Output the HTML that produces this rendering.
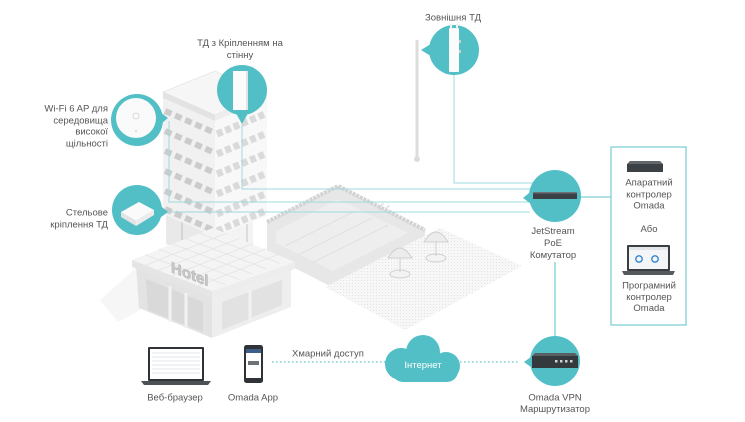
<!DOCTYPE html>
<html><head><meta charset="utf-8"><style>
html,body{margin:0;padding:0;background:#fff;}
svg{display:block;}
text{font-family:"Liberation Sans","DejaVu Sans",sans-serif;font-size:9.5px;fill:#555;}
</style></head><body>
<svg width="745" height="422" viewBox="0 0 745 422" xmlns="http://www.w3.org/2000/svg">
<defs>
<pattern id="dots" width="3" height="3" patternUnits="userSpaceOnUse">
<rect width="3" height="3" fill="#f7f7f7"/><rect x="1" y="1" width="1" height="1" fill="#e2e2e2"/>
</pattern>
</defs>
<rect width="745" height="422" fill="#fff"/>

<!-- faint ground shadow -->
<polygon points="100,300 136,268 140,310 118,322" fill="#f6f6f6"/>

<!-- pool -->
<polygon points="267,222 338,186 425,230 425,236 330,286 267,254" fill="#e7e7e7"/>
<polygon points="276,231 338,199 408,233 333,271 276,243" fill="#eeeeee"/>
<line x1="285" y1="246" x2="355" y2="211" stroke="#e0e0e0" stroke-width="1"/>
<line x1="298" y1="255" x2="372" y2="218" stroke="#e0e0e0" stroke-width="1"/>
<line x1="312" y1="263" x2="388" y2="225" stroke="#e0e0e0" stroke-width="1"/>
<polyline points="267,222 338,186 425,230" fill="none" stroke="#d3d3d3" stroke-width="4" stroke-dasharray="3 1"/>
<path d="M380,210 q0,-6 4,-6 M386,212 q0,-6 4,-6" stroke="#d6d6d6" stroke-width="1" fill="none"/>

<!-- patio -->
<polygon points="325,287 440,228 522,266 405,330" fill="url(#dots)"/>

<!-- umbrellas -->
<g fill="#ececec" stroke="#cfcfcf" stroke-width="1">
<ellipse cx="400" cy="274" rx="10" ry="4" fill="#f3f3f3"/>
<line x1="400" y1="258" x2="400" y2="272"/>
<path d="M388,258 Q400,238 412,258 Z"/>
<ellipse cx="436" cy="258" rx="10" ry="4" fill="#f3f3f3"/>
<line x1="436" y1="242" x2="436" y2="256"/>
<path d="M424,242 Q436,222 448,242 Z"/>
</g>

<!-- tower ground block -->
<polygon points="166,214 215,236 215,262 166,244" fill="#e9e9e9"/>
<polygon points="215,236 253,221 253,245 215,262" fill="#f3f3f3"/>
<line x1="182" y1="222" x2="182" y2="250" stroke="#d4d4d4" stroke-width="2"/>
<line x1="247" y1="224" x2="247" y2="250" stroke="#dcdcdc" stroke-width="2"/>

<!-- tower -->
<polygon points="163,98 215,121 215,237 163,214" fill="#f1f1f1"/>
<polygon points="215,121 267,99 267,216 215,237" fill="#f8f8f8"/>
<polygon points="163,92 215,71 267,93 215,115" fill="#f6f6f6" stroke="#e4e4e4" stroke-width="0.8"/>
<polygon points="163,92 215,115 215,121 163,98" fill="#e3e3e3"/>
<polygon points="215,115 267,93 267,99 215,121" fill="#ededed"/>
<g stroke="#cbcbcb" stroke-width="6" stroke-dasharray="7 4">
<line x1="165" y1="111" x2="213" y2="132"/>
<line x1="165" y1="131" x2="213" y2="152"/>
<line x1="165" y1="151" x2="213" y2="172"/>
<line x1="165" y1="171" x2="213" y2="192"/>
<line x1="165" y1="191" x2="213" y2="212"/>
<line x1="165" y1="209" x2="213" y2="230"/>
</g>
<g stroke="#dadada" stroke-width="7" stroke-dasharray="6 3">
<line x1="217" y1="134" x2="265" y2="114"/>
<line x1="217" y1="154" x2="265" y2="134"/>
<line x1="217" y1="174" x2="265" y2="154"/>
<line x1="217" y1="194" x2="265" y2="174"/>
<line x1="217" y1="214" x2="265" y2="194"/>
<line x1="217" y1="231" x2="265" y2="211"/>
</g>

<!-- lobby -->
<polygon points="136,266 212,297 212,338 139,308" fill="#e3e3e3"/>
<polygon points="212,297 291,268 291,307 212,338" fill="#eeeeee"/>
<polygon points="146,279 203,302 203,332 148,310" fill="#d9d9d9"/>
<polygon points="222,302 282,280 282,305 222,330" fill="#e2e2e2"/>
<g stroke="#f2f2f2" stroke-width="3">
<line x1="170" y1="286" x2="170" y2="322"/>
<line x1="186" y1="293" x2="186" y2="328"/>
<line x1="250" y1="290" x2="250" y2="320"/>
</g>
<polygon points="132,260 213,228 295,262 212,291" fill="#f4f4f4"/>
<g stroke="#e3e3e3" stroke-width="0.8">
<line x1="145.5" y1="254.7" x2="225.5" y2="284.7"/>
<line x1="159" y1="249.3" x2="239" y2="279.3"/>
<line x1="172.5" y1="244" x2="252.5" y2="274"/>
<line x1="186" y1="238.7" x2="266" y2="268.7"/>
<line x1="199.5" y1="233.3" x2="279.5" y2="263.3"/>
<line x1="145.3" y1="265.2" x2="226.3" y2="233.2"/>
<line x1="158.7" y1="270.3" x2="239.7" y2="238.3"/>
<line x1="172" y1="275.5" x2="253" y2="243.5"/>
<line x1="185.3" y1="280.7" x2="266.3" y2="248.7"/>
<line x1="198.7" y1="285.8" x2="279.7" y2="253.8"/>
</g>
<polygon points="132,260 212,291 212,298 132,267" fill="#e5e5e5"/>
<polygon points="212,291 295,262 295,269 212,298" fill="#ededed"/>
<text x="0" y="0" transform="matrix(1,0.38,0,1,171,272)" style="font-size:15px;font-weight:bold;fill:#c9c9c9;stroke:#b5b5b5;stroke-width:0.6">Hotel</text>

<!-- pole -->
<line x1="417" y1="40" x2="417" y2="158" stroke="#dcdcdc" stroke-width="3"/>
<circle cx="417" cy="159" r="3" fill="#dcdcdc"/>

<!-- connection lines -->
<g stroke="#9fd8dc" stroke-width="1" fill="none">
<polyline points="169,121 169,202 529,202"/>
<polyline points="168,212 530,212"/>
<polyline points="242,124 242,189 532,189"/>
<polyline points="454,75 454,183 537,183"/>
</g>
<g stroke="#7fcfd3" stroke-width="1.3" fill="none">
<line x1="580" y1="197" x2="611" y2="197"/>
<line x1="555" y1="262" x2="555" y2="336"/>
<rect x="611" y="147" width="75" height="178"/>
</g>
<g stroke="#7fcfd3" stroke-width="1.5" stroke-dasharray="1.5 2.5">
<line x1="272" y1="362" x2="388" y2="362"/>
<line x1="460" y1="362" x2="520" y2="362"/>
</g>

<!-- teal callouts -->
<g fill="#52bfc6">
<circle cx="137" cy="120" r="26"/><polygon points="168,118 156,109 156,128"/>
<circle cx="137" cy="210" r="25"/><polygon points="168,212 157,203 157,220"/>
<circle cx="242" cy="90" r="25"/><polygon points="242,124 233,108 251,108"/>
<circle cx="454" cy="50" r="25"/><polygon points="421,50 434,42 434,58"/>
<circle cx="555" cy="196" r="26"/><polygon points="523,198 534,189 534,206"/>
<circle cx="555" cy="361" r="25"/><polygon points="524,362 535,354 535,370"/>
<circle cx="401" cy="364" r="16"/><circle cx="423" cy="352" r="17"/><circle cx="446" cy="366" r="14"/>
<rect x="392" y="360" width="66" height="22" rx="11"/>
</g>
<text x="423" y="368" text-anchor="middle" style="fill:#fff;font-size:9.5px">Інтернет</text>

<!-- device icons in callouts -->
<circle cx="136" cy="118" r="20" fill="#fafafa"/>
<circle cx="136" cy="116" r="3" fill="none" stroke="#d0d0d0" stroke-width="0.8"/>
<circle cx="136" cy="131" r="0.8" fill="#bbb"/>
<polygon points="121,212 136,221 136,226 121,217" fill="#e3e3e3"/>
<polygon points="136,221 154,210 154,215 136,226" fill="#ececec"/>
<polygon points="121,212 139,202 154,210 136,221" fill="#fafafa"/>
<rect x="233" y="71" width="15" height="39" fill="#fbfbfb"/>
<rect x="246" y="71" width="2" height="39" fill="#e3e3e3"/>
<rect x="449" y="28" width="10" height="44" rx="1" fill="#fbfbfb"/>
<rect x="450" y="24" width="2" height="5" fill="#f0f0f0"/><rect x="456" y="24" width="2" height="5" fill="#f0f0f0"/>
<rect x="459" y="40" width="2" height="3" fill="#ccc"/><rect x="459" y="50" width="2" height="3" fill="#ccc"/>
<rect x="533" y="192" width="44" height="7" fill="#3b4045"/>
<rect x="533" y="192" width="44" height="1.5" fill="#6a7076"/>
<polygon points="535,353 575,353 578,356 532,356" fill="#5a5f64"/>
<rect x="532" y="356" width="46" height="12" fill="#34393e"/>
<g fill="#cfd3d6"><rect x="555" y="360" width="2.5" height="2.5"/><rect x="560" y="360" width="2.5" height="2.5"/><rect x="565" y="360" width="2.5" height="2.5"/><rect x="570" y="360" width="2.5" height="2.5"/></g>

<!-- panel devices -->
<polygon points="630,161 660,161 663,164 627,164" fill="#62676c"/>
<rect x="627" y="164" width="36" height="8" fill="#3c4146"/>
<rect x="627" y="245" width="43" height="26" rx="1" fill="#3a3e42"/>
<rect x="629" y="247" width="39" height="22" fill="#f3f5f7"/>
<rect x="629" y="247" width="39" height="3" fill="#e2e6ea"/>
<circle cx="639" cy="259" r="3.2" fill="none" stroke="#2f86d6" stroke-width="1.4"/>
<circle cx="655" cy="259" r="3.2" fill="none" stroke="#2f86d6" stroke-width="1.4"/>
<polygon points="622,271 675,271 673,275 624,275" fill="#555a5f"/>

<!-- bottom devices -->
<rect x="148" y="347" width="56" height="34" rx="1" fill="#2f3337"/>
<rect x="150" y="349" width="52" height="30" fill="#fff"/>
<g stroke="#d8dde2" stroke-width="0.8">
<line x1="152" y1="353" x2="200" y2="353"/><line x1="152" y1="357" x2="200" y2="357"/>
<line x1="152" y1="361" x2="200" y2="361"/><line x1="152" y1="365" x2="200" y2="365"/>
<line x1="152" y1="369" x2="200" y2="369"/><line x1="152" y1="373" x2="200" y2="373"/>
</g>
<polygon points="141,381 211,381 208,385 144,385" fill="#4c5156"/>
<rect x="244" y="345" width="19" height="38" rx="2.5" fill="#2f3337"/>
<rect x="246" y="349" width="15" height="29" fill="#fff"/>
<rect x="246" y="349" width="15" height="4" fill="#3d5f8a"/>
<rect x="248" y="361" width="11" height="4" fill="#6b7278"/>

<!-- labels -->
<text x="240" y="46" text-anchor="middle">ТД з Кріпленням на</text>
<text x="240" y="58" text-anchor="middle">стінну</text>
<g text-anchor="end">
<text x="108" y="111.5">Wi-Fi 6 AP для</text>
<text x="108" y="123.5">середовища</text>
<text x="108" y="134.5">високої</text>
<text x="108" y="146.5">щільності</text>
<text x="108" y="215.5">Стельове</text>
<text x="108" y="227.5">кріплення ТД</text>
</g>
<g text-anchor="middle">
<text x="453" y="20.5">Зовнішня ТД</text>
<text x="553" y="234">JetStream</text>
<text x="553" y="246">PoE</text>
<text x="553" y="258">Комутатор</text>
<text x="649" y="185.5">Апаратний</text>
<text x="649" y="197.5">контролер</text>
<text x="649" y="208.5">Omada</text>
<text x="649" y="232">Або</text>
<text x="649" y="288.5">Програмний</text>
<text x="649" y="300">контролер</text>
<text x="649" y="311">Omada</text>
<text x="175" y="400.5">Веб-браузер</text>
<text x="253" y="400.5">Omada App</text>
<text x="555" y="400.5">Omada VPN</text>
<text x="555" y="412">Маршрутизатор</text>
</g>
<text x="292" y="356.5">Хмарний доступ</text>
</svg>
</body></html>
